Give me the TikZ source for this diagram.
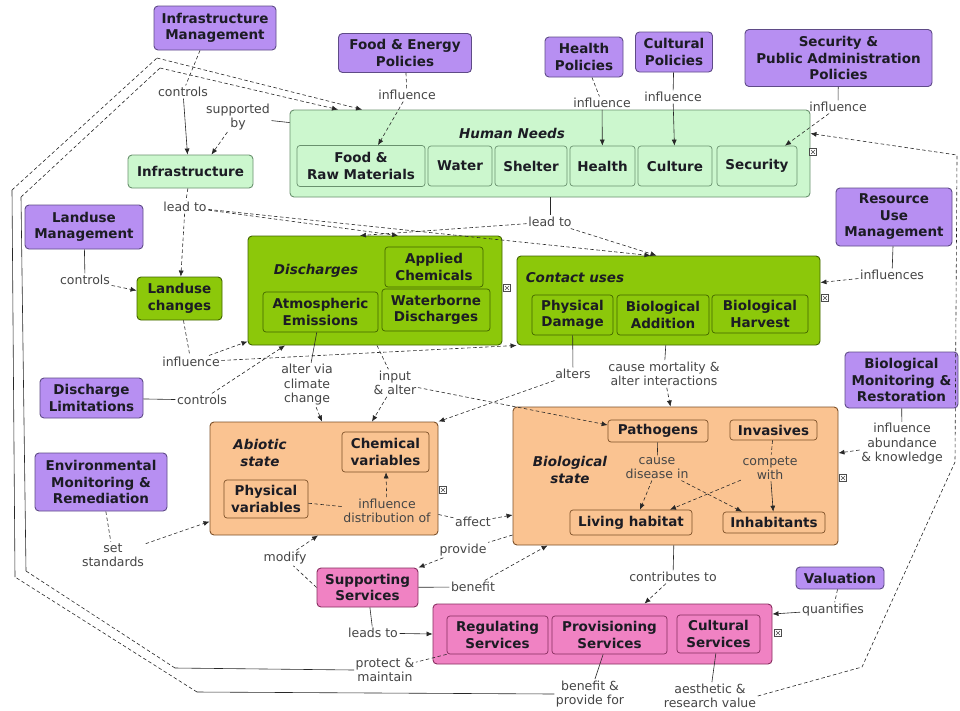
\documentclass[tikz,border=0pt]{standalone}
\usepackage{fontspec}
\setmainfont{DejaVu Sans}
\usetikzlibrary{arrows.meta}
\definecolor{purF}{RGB}{183,143,242}
\definecolor{purD}{RGB}{95,75,135}
\definecolor{lgF}{RGB}{204,247,206}
\definecolor{lgD}{RGB}{105,145,110}
\definecolor{dgF}{RGB}{140,200,10}
\definecolor{dgD}{RGB}{65,100,0}
\definecolor{orF}{RGB}{250,195,145}
\definecolor{orD}{RGB}{125,80,40}
\definecolor{pkF}{RGB}{240,130,195}
\definecolor{pkD}{RGB}{135,45,95}
\definecolor{txtC}{RGB}{28,28,36}
\definecolor{lblC}{RGB}{70,70,70}
\definecolor{lineC}{RGB}{40,40,40}
\tikzset{
  box/.style={rounded corners=4pt, line width=0.9pt, align=center, inner sep=1pt, text=txtC, font=\bfseries\fontsize{13.5}{16.5}\selectfont},
  pur/.style={box, fill=purF, draw=purD},
  lg/.style={box, fill=lgF, draw=lgD},
  lgi/.style={box, fill=lgF, draw=lgD, line width=0.7pt, rounded corners=3pt},
  dg/.style={box, fill=dgF, draw=dgD},
  dgi/.style={box, fill=dgF, draw=dgD, line width=0.7pt, rounded corners=3pt},
  org/.style={box, fill=orF, draw=orD},
  orgi/.style={box, fill=orF, draw=orD, line width=0.7pt, rounded corners=3pt},
  pnk/.style={box, fill=pkF, draw=pkD},
  pnki/.style={box, fill=pkF, draw=pkD, line width=0.7pt, rounded corners=3pt},
  ttl/.style={font=\bfseries\itshape\fontsize{13.5}{16.5}\selectfont, text=txtC, align=center, inner sep=1pt},
  lbl/.style={font=\fontsize{12.5}{14.5}\selectfont, text=lblC, align=center, inner sep=1.5pt},
  con/.style={draw=lineC, line width=0.6pt},
  dsh/.style={con, dash pattern=on 3.5pt off 2.5pt},
  arr/.style={-{Latex[length=6pt,width=5pt]}},
  icon/.style={draw=black!70, fill=white, line width=0.5pt}
}
\begin{document}
\begin{tikzpicture}[x=1pt,y=-1pt]
\fill[white] (0,0) rectangle (960,710);
\useasboundingbox (0,0) rectangle (960,710);

% ---------- purple management / policy nodes
\node[pur, minimum width=122pt, minimum height=44pt] (im) at (215,28) {Infrastructure\\Management};
\node[pur, minimum width=133pt, minimum height=39pt] (fep) at (405,53) {Food \& Energy\\Policies};
\node[pur, minimum width=78pt, minimum height=40pt] (hp) at (584,57) {Health\\Policies};
\node[pur, minimum width=77pt, minimum height=40pt] (cp) at (674,52) {Cultural\\Policies};
\node[pur, minimum width=187pt, minimum height=57pt] (spa) at (838.5,58) {Security \&\\Public Administration\\Policies};
\node[pur, minimum width=116pt, minimum height=58pt] (rum) at (894,217) {Resource\\Use\\Management};
\node[pur, minimum width=118pt, minimum height=44pt] (lm) at (84,227) {Landuse\\Management};
\node[pur, minimum width=103pt, minimum height=40pt] (dl) at (91.5,398) {Discharge\\Limitations};
\node[pur, minimum width=132pt, minimum height=58pt] (emr) at (101,482) {Environmental\\Monitoring \&\\Remediation};
\node[pur, minimum width=113pt, minimum height=56pt] (bmr) at (901.5,380) {Biological\\Monitoring \&\\Restoration};
\node[pur, minimum width=88pt, minimum height=22pt] (val) at (840,578) {Valuation};

% ---------- light green
\node[lg, minimum width=125pt, minimum height=33pt] (infra) at (190.5,171.5) {Infrastructure};
\node[lg, minimum width=520pt, minimum height=87pt] (hn) at (550,153.5) {};
\node[ttl] (hnt) at (512,133) {Human Needs};
\node[lgi, minimum width=128pt, minimum height=41pt] (food) at (361,166) {Food \&\\Raw Materials};
\node[lgi, minimum width=64pt, minimum height=40pt] (water) at (460,166) {Water};
\node[lgi, minimum width=72pt, minimum height=40pt] (shelter) at (531,166) {Shelter};
\node[lgi, minimum width=65pt, minimum height=40pt] (health) at (602.5,166) {Health};
\node[lgi, minimum width=74pt, minimum height=40pt] (culture) at (675,166) {Culture};
\node[lgi, minimum width=80pt, minimum height=40pt] (security) at (757,166) {Security};

% ---------- dark green
\node[dg, minimum width=85pt, minimum height=43pt] (luc) at (179.5,298.5) {Landuse\\changes};
\node[dg, minimum width=254pt, minimum height=109pt] (dis) at (375,290.5) {};
\node[ttl] (dist) at (316,271) {Discharges};
\node[dgi, minimum width=98pt, minimum height=40pt] (ac) at (434,267) {Applied\\Chemicals};
\node[dgi, minimum width=115pt, minimum height=40pt] (ae) at (320.5,312) {Atmospheric\\Emissions};
\node[dgi, minimum width=108pt, minimum height=42pt] (wd) at (436,310) {Waterborne\\Discharges};
\node[dg, minimum width=303pt, minimum height=89pt] (cu) at (668.5,300.5) {};
\node[ttl] (cut) at (575,278) {Contact uses};
\node[dgi, minimum width=81pt, minimum height=40pt] (pd) at (572.5,315) {Physical\\Damage};
\node[dgi, minimum width=92pt, minimum height=40pt] (ba) at (663,315) {Biological\\Addition};
\node[dgi, minimum width=96pt, minimum height=38pt] (bh) at (760,314) {Biological\\Harvest};

% ---------- orange
\node[org, minimum width=228pt, minimum height=113pt] (abio) at (324,478.5) {};
\node[ttl] (abt) at (260,453) {Abiotic\\state};
\node[orgi, minimum width=87pt, minimum height=40pt] (chem) at (385.5,452) {Chemical\\variables};
\node[orgi, minimum width=84pt, minimum height=38pt] (phys) at (266,499) {Physical\\variables};
\node[org, minimum width=325pt, minimum height=138pt] (bio) at (675.5,476) {};
\node[ttl] (biot) at (570,470) {Biological\\state};
\node[orgi, minimum width=100pt, minimum height=22pt] (path) at (658,431) {Pathogens};
\node[orgi, minimum width=87pt, minimum height=20pt] (inv) at (773.5,430) {Invasives};
\node[orgi, minimum width=122pt, minimum height=25pt] (lh) at (631,522.5) {Living habitat};
\node[orgi, minimum width=102pt, minimum height=21pt] (inh) at (774,522.5) {Inhabitants};

% ---------- pink
\node[pnk, minimum width=101pt, minimum height=39pt] (ss) at (367.5,587.5) {Supporting\\Services};
\node[pnk, minimum width=339pt, minimum height=60pt] (svc) at (602.5,634) {};
\node[pnki, minimum width=101pt, minimum height=38pt] (reg) at (497.5,635) {Regulating\\Services};
\node[pnki, minimum width=115pt, minimum height=38pt] (prov) at (609.5,635) {Provisioning\\Services};
\node[pnki, minimum width=83pt, minimum height=38pt] (cult) at (718.5,634) {Cultural\\Services};

% ---------- small nesting icons
\foreach \ix/\iy in {813/152, 507/288, 825/298, 443/490, 843/478, 778/633}{
  \draw[icon] (\ix-3.5,\iy-3.5) rectangle (\ix+3.5,\iy+3.5);
  \draw[black!70, line width=0.4pt] (\ix-2,\iy-2) -- (\ix+2,\iy+2) (\ix-2,\iy+2) -- (\ix+2,\iy-2);
}

% ---------- labels
\node[lbl] (lctrl1) at (183,92) {controls};
\node[lbl] (lsup) at (238,117) {supported\\by};
\node[lbl] (linf1) at (407,95) {influence};
\node[lbl] (linf2) at (602,103) {influence};
\node[lbl] (linf3) at (673,97) {influence};
\node[lbl] (linf4) at (838,107) {influence};
\node[lbl] (llead1) at (185,207) {lead to};
\node[lbl] (llead2) at (550,222) {lead to};
\node[lbl] (lctrl2) at (85,280) {controls};
\node[lbl] (linfs) at (892,275) {influences};
\node[lbl] (linf5) at (191,362) {influence};
\node[lbl] (lctrl3) at (202,400) {controls};
\node[lbl] (lclim) at (307,385) {alter via\\climate\\change};
\node[lbl] (linput) at (395,383) {input\\\& alter};
\node[lbl] (lalters) at (573,374) {alters};
\node[lbl] (lmort) at (664,374) {cause mortality \&\\alter interactions};
\node[lbl] (labund) at (902,444) {influence\\abundance\\\& knowledge};
\node[lbl] (lset) at (113,555) {set\\standards};
\node[lbl] (lmodify) at (285,558) {modify};
\node[lbl] (laffect) at (473,522) {affect};
\node[lbl] (lprov) at (463,550) {provide};
\node[lbl] (lbenefit) at (473,587) {benefit};
\node[lbl] (lcontrib) at (673,577) {contributes to};
\node[lbl] (lquant) at (833,610) {quantifies};
\node[lbl] (lleads) at (373,633) {leads to};
\node[lbl] (lprot) at (385,670) {protect \&\\maintain};
\node[lbl] (lbpf) at (590,694) {benefit \&\\provide for};
\node[lbl] (laes) at (710,696) {aesthetic \&\\research value};
\node[lbl] (linfd) at (387,511) {influence\\distribution of};
\node[lbl] (ldis) at (657,468) {cause\\disease in};
\node[lbl] (lcomp) at (770,468) {compete\\with};

% ---------- connectors
\draw[dsh] ([xshift=-15pt]im.south) -- (lctrl1);
\draw[con,arr] (lctrl1) -- ([xshift=-3pt]infra.north);
\draw[con] ([yshift=-13pt]hn.north west) -- (lsup);
\draw[dsh,arr] (lsup) -- ([xshift=21pt]infra.north);

\draw[dsh] (infra) -- (llead1);
\draw[dsh,arr] (llead1) -- (luc);
\draw[dsh,arr] (llead1) -- ([xshift=23pt]dis.north);
\draw[dsh,arr] (llead1) -- ([xshift=-18pt]cu.north);
\draw[con] (hn) -- (llead2);
\draw[dsh,arr] (llead2) -- ([xshift=-15pt]dis.north);
\draw[dsh,arr] (llead2) -- ([xshift=-12pt]cu.north);

\draw[con] (lm) -- (lctrl2);
\draw[dsh,arr] (lctrl2) -- ([yshift=8pt]luc.west);
\draw[dsh] (luc) -- (linf5);
\draw[dsh,arr] (linf5) -- ([yshift=4pt]dis.south west);
\draw[dsh,arr] (linf5) -- (cu.south west);
\draw[con] (dl) -- (lctrl3);
\draw[dsh,arr] (lctrl3) -- ([xshift=-90pt]dis.south);

\draw[con] (ae) -- (lclim);
\draw[dsh,arr] (lclim) -- ([xshift=-2pt]abio.north);
\draw[dsh] ([xshift=2pt]dis.south) -- (linput);
\draw[dsh,arr] (linput) -- ([xshift=48pt]abio.north);
\draw[dsh,arr] (linput) -- ([yshift=6pt]path.west);
\draw[con] (pd) -- (lalters);
\draw[dsh,arr] (lalters) -- (abio.north east);
\draw[con] (cu) -- (lmort);
\draw[dsh,arr] (lmort) -- ([xshift=-5pt]bio.north);
\draw[con] (rum) -- (linfs);
\draw[dsh,arr] (linfs) -- ([yshift=18pt]cu.east);
\draw[con] (bmr) -- (labund);
\draw[dsh,arr] (labund) -- ([yshift=23pt]bio.east);

\draw[dsh] (emr) -- (lset);
\draw[dsh,arr] (lset) -- ([yshift=-43pt]abio.west);
\draw[dsh] (phys) -- (linfd);
\draw[dsh,arr] (linfd) -- (chem);
\draw[dsh] ([yshift=-36pt]abio.east) -- (laffect);
\draw[dsh,arr] (laffect) -- ([yshift=-39pt]bio.west);
\draw[dsh] ([yshift=-59pt]bio.west) -- (lprov);
\draw[dsh,arr] (lprov) -- (ss.north east);
\draw[con] (ss) -- (lbenefit);
\draw[dsh,arr] (lbenefit) -- ([xshift=35pt]bio.south west);
\draw[dsh] (ss.west) -- (lmodify);
\draw[dsh,arr] (lmodify) -- ([xshift=-6pt]abio.south);
\draw[con] (ss) -- (lleads);
\draw[con,arr] (lleads) -- (svc.west);
\draw[con] (bio) -- (lcontrib);
\draw[dsh,arr] (lcontrib) -- ([xshift=42pt]svc.north);
\draw[dsh] (val) -- (lquant);
\draw[con,arr] (lquant) -- ([yshift=20pt]svc.east);

\draw[con] (path) -- (ldis);
\draw[dsh,arr] (ldis) -- ([xshift=9pt]lh.north);
\draw[dsh,arr] (ldis) -- ([xshift=-32pt]inh.north);
\draw[dsh] (inv) -- (lcomp);
\draw[dsh,arr] (lcomp) -- ([xshift=39pt]lh.north);
\draw[con,arr] (lcomp) -- (inh);

\draw[dsh] (fep) -- (linf1);
\draw[dsh,arr] (linf1) -- ([xshift=17pt]food.north);
\draw[dsh] (hp) -- (linf2);
\draw[con,arr] (linf2) -- (health);
\draw[con] (cp) -- (linf3);
\draw[con,arr] (linf3) -- (culture);
\draw[con] (spa) -- (linf4);
\draw[dsh,arr] (linf4) -- ([xshift=28pt]security.north);

% long return paths to Human Needs
\coordinate (fa1) at (197,692);
\coordinate (fa2) at (15,577);
\coordinate (fa3) at (12,190);
\coordinate (fa4) at (157,58);
\coordinate (fb1) at (175,668);
\coordinate (fb2) at (26,571);
\coordinate (fb3) at (21,197);
\coordinate (fb4) at (160,68);
\coordinate (fc1) at (862,667);
\coordinate (fc2) at (955,462);
\coordinate (fc3) at (957,155);

\draw[con] (prov) -- (lbpf);
\draw[con] (lbpf.west) -- (fa1);
\draw[dsh] (fa1) -- (fa2);
\draw[con] (fa2) -- (fa3);
\draw[dsh] (fa3) -- (fa4);
\draw[dsh,arr] (fa4) -- ([xshift=-188pt]hn.north);

\draw[dsh] (reg.south west) -- (lprot);
\draw[con] (lprot.west) -- (fb1);
\draw[dsh] (fb1) -- (fb2);
\draw[con] (fb2) -- (fb3);
\draw[dsh] (fb3) -- (fb4);
\draw[dsh,arr] (fb4) -- ([xshift=-212pt]hn.north);

\draw[con] (cult) -- (laes);
\draw[dsh,arr] (laes.east) -- (fc1) -- (fc2) -- (fc3) -- ([yshift=20pt]hn.east);
\end{tikzpicture}
\end{document}
